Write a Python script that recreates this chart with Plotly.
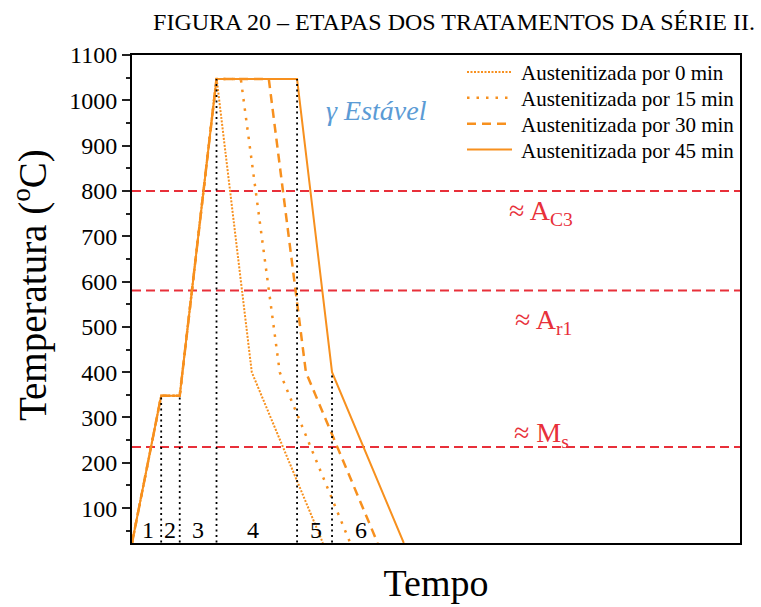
import plotly.graph_objects as go

# Thermal cycles of series II (time in arbitrary units, temperature in °C)
series_names = [
    "Austenitizada por 0 min",
    "Austenitizada por 15 min",
    "Austenitizada por 30 min",
    "Austenitizada por 45 min",
]
time_0min = [0.0, 4.8, 7.85, 13.9, 19.7, 31.4]
temp_0min = [23, 348, 348, 1050, 400, 23]
time_15min = [0.0, 4.8, 7.85, 13.9, 17.9, 24.3, 35.9]
temp_15min = [23, 348, 348, 1047, 1047, 400, 23]
time_30min = [0.0, 4.8, 7.85, 13.9, 22.5, 28.6, 40.4]
temp_30min = [23, 348, 348, 1047, 1047, 400, 23]
time_45min = [0.0, 4.8, 7.85, 13.9, 27.15, 32.9, 44.7]
temp_45min = [23, 348, 348, 1047, 1047, 400, 23]

# Stage boundaries (vertical dotted lines) and the temperature each reaches
stage_bounds = [4.8, 7.85, 13.9, 27.15, 32.9]
stage_tops = [348, 348, 1047, 1047, 400]
stage_labels = ["1", "2", "3", "4", "5", "6"]
stage_label_x = [2.7, 6.25, 10.8, 19.85, 30.2, 37.7]

# Critical temperatures
crit_temps = [800, 580, 235]
crit_labels = ["≈ A<sub>C3</sub>", "≈ A<sub>r1</sub>", "≈ M<sub>s</sub>"]
crit_label_pos = [(61.6, 752), (62.6, 512), (62.5, 263)]

y_ticks = list(range(100, 1101, 100))

ORANGE = "#F7901E"
RED = "#E8303A"
BLUE = "#5B9BD5"
FONT = "Liberation Serif"

# plot area in pixels (used for the key placed inside the axes)
PLOT_L, PLOT_R, PLOT_T, PLOT_B = 132, 740, 55, 545


def px_x(px):
    return (px - PLOT_L) / (PLOT_R - PLOT_L)


def px_y(py):
    return (PLOT_B - py) / (PLOT_B - PLOT_T)


fig = go.Figure()

line_styles = [
    dict(width=2, dash="2px,1.5px"),
    dict(width=2.5, dash="2.5px,7px"),
    dict(width=2.5, dash="9px,6px"),
    dict(width=2, dash="solid"),
]
for name, t, T, st in zip(
    series_names,
    [time_0min, time_15min, time_30min, time_45min],
    [temp_0min, temp_15min, temp_30min, temp_45min],
    line_styles,
):
    fig.add_trace(go.Scatter(x=t, y=T, mode="lines", name=name, showlegend=False,
                             line=dict(color=ORANGE, **st)))

# vertical stage separators
vx, vy = [], []
for b, top in zip(stage_bounds, stage_tops):
    vx += [b, b, None]
    vy += [0, top, None]
fig.add_trace(go.Scatter(x=vx, y=vy, mode="lines", showlegend=False,
                         line=dict(color="black", width=1.8, dash="2px,3.5px"),
                         hoverinfo="skip"))

# critical temperature lines
for T in crit_temps:
    fig.add_shape(type="line", xref="paper", x0=0, x1=1, yref="y", y0=T, y1=T,
                  line=dict(color=RED, width=2, dash="9px,5px"), layer="below")

annotations = []
for lab, x in zip(stage_labels, stage_label_x):
    annotations.append(dict(x=x, y=52, text=lab, showarrow=False,
                            font=dict(family=FONT, size=24, color="black")))
for lab, (x, y) in zip(crit_labels, crit_label_pos):
    annotations.append(dict(x=x, y=y, text=lab, showarrow=False, xanchor="left",
                            font=dict(family=FONT, size=28, color=RED)))
annotations.append(dict(x=31.6, y=978, text="<i>γ Estável</i>", showarrow=False,
                        xanchor="left", font=dict(family=FONT, size=28, color=BLUE)))
# y-axis title
annotations.append(dict(xref="paper", yref="paper", x=(30 - PLOT_L) / 608,
                        y=px_y(286), xanchor="center", yanchor="middle",
                        text="Temperatura (<sup>o</sup>C)", textangle=-90,
                        showarrow=False, font=dict(family=FONT, size=39, color="black")))

# key: line sample + series name for each treatment
for i, (name, st) in enumerate(zip(series_names, line_styles)):
    row_y = 72 + 26 * i
    fig.add_shape(type="line", xref="paper", yref="paper",
                  x0=px_x(467), x1=px_x(512), y0=px_y(row_y), y1=px_y(row_y),
                  line=dict(color=ORANGE, width=st["width"], dash=st["dash"]))
    annotations.append(dict(xref="paper", yref="paper", x=px_x(519), y=px_y(row_y + 1),
                            xanchor="left", yanchor="middle", text=name,
                            showarrow=False,
                            font=dict(family=FONT, size=21, color="black")))

fig.update_layout(
    width=761, height=607,
    margin=dict(l=PLOT_L, r=761 - PLOT_R, t=PLOT_T, b=607 - PLOT_B),
    paper_bgcolor="white", plot_bgcolor="white",
    font=dict(family=FONT, color="black"),
    title=dict(text="FIGURA 20 – ETAPAS DOS TRATAMENTOS DA SÉRIE II.",
               x=454 / 761, xanchor="center", xref="container",
               y=1 - 22 / 607, yanchor="middle", yref="container",
               font=dict(family=FONT, size=24, color="black")),
    annotations=annotations,
    showlegend=False,
)
fig.update_xaxes(range=[0, 100], showticklabels=False, ticks="", showgrid=False,
                 zeroline=False, showline=True, linecolor="black", linewidth=2,
                 mirror=True,
                 title=dict(text="Tempo", font=dict(family=FONT, size=38), standoff=25))
fig.update_yaxes(range=[23, 1100], tickvals=y_ticks, ticks="outside", ticklen=8,
                 tickwidth=2, tickcolor="#222", showgrid=False, zeroline=False,
                 showline=True, linecolor="black", linewidth=2, mirror=True,
                 tickfont=dict(family=FONT, size=24),
                 minor=dict(ticks="outside", ticklen=4, tickwidth=2, dtick=50,
                            tickcolor="#222", showgrid=False))

fig.write_html("out.html")
